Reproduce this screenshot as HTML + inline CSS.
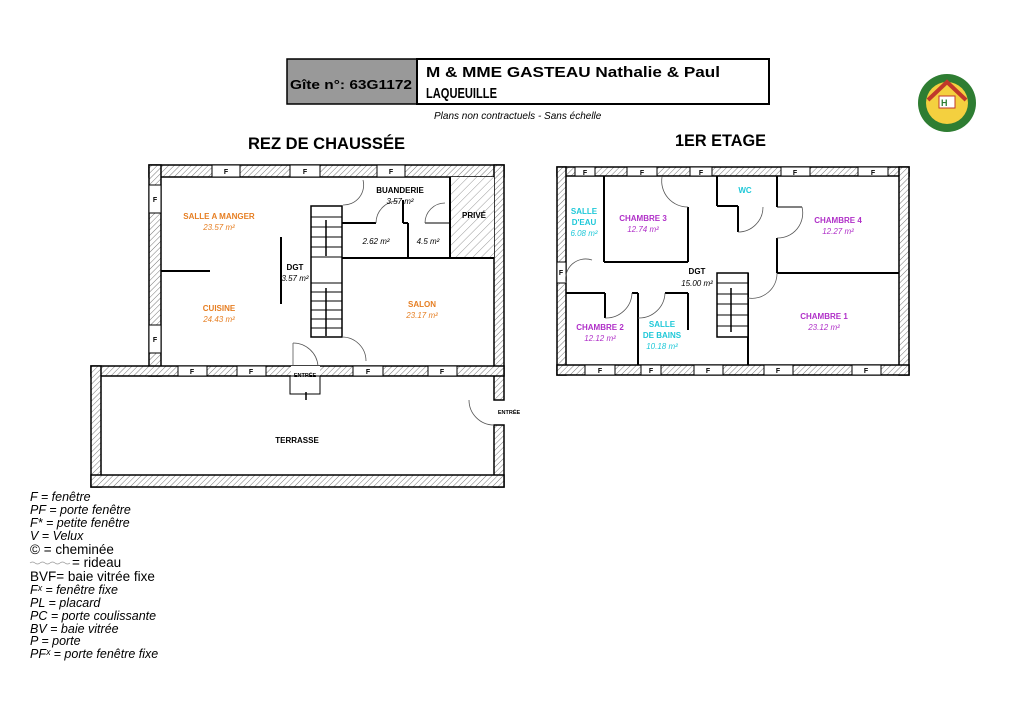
<!DOCTYPE html>
<html><head><meta charset="utf-8"><style>
html,body{margin:0;padding:0;background:#fff;}
svg{display:block;}
text{font-family:"Liberation Sans","DejaVu Sans",sans-serif;}
</style></head><body>
<svg width="1024" height="724" viewBox="0 0 1024 724" xmlns="http://www.w3.org/2000/svg">
<defs>
<pattern id="h" width="4" height="4" patternUnits="userSpaceOnUse" patternTransform="rotate(45)">
<rect width="4" height="4" fill="#fff"/><line x1="0" y1="0" x2="0" y2="4" stroke="#777" stroke-width="1"/></pattern>
<pattern id="h2" width="6" height="6" patternUnits="userSpaceOnUse" patternTransform="rotate(45)">
<rect width="6" height="6" fill="#fff"/><line x1="0" y1="0" x2="0" y2="6" stroke="#999" stroke-width="1"/></pattern>
</defs>

<!-- header -->
<rect x="287" y="59" width="130" height="45" fill="#999" stroke="#000" stroke-width="1.5"/>
<rect x="417" y="59" width="352" height="45" fill="#fff" stroke="#000" stroke-width="2"/>
<text x="290" y="89" font-size="13" font-weight="bold" textLength="122" lengthAdjust="spacingAndGlyphs">Gîte n°: 63G1172</text>
<text x="426" y="77" font-size="15" font-weight="bold" textLength="294" lengthAdjust="spacingAndGlyphs">M &amp; MME GASTEAU Nathalie &amp; Paul</text>
<text x="426" y="98" font-size="15" font-weight="bold" textLength="71" lengthAdjust="spacingAndGlyphs">LAQUEUILLE</text>
<text x="434" y="119" font-size="10" font-style="italic">Plans non contractuels - Sans échelle</text>
<!-- logo -->
<circle cx="947" cy="103" r="29" fill="#2e7d32"/>
<circle cx="947" cy="103" r="21" fill="#f4d03f"/>
<path d="M928 100 L947 82 L966 100" fill="none" stroke="#c0392b" stroke-width="4"/>
<rect x="939" y="96" width="16" height="12" fill="#fff" stroke="#c0392b"/>
<text x="941" y="106" font-size="9" font-weight="bold" fill="#2e7d32">H</text>

<text x="248" y="149" font-size="17" font-weight="bold" textLength="157" lengthAdjust="spacingAndGlyphs">REZ DE CHAUSSÉE</text>
<text x="675" y="146" font-size="17" font-weight="bold" textLength="91" lengthAdjust="spacingAndGlyphs">1ER ETAGE</text>

<!-- ===== LEFT PLAN ===== -->
<g stroke="#000" stroke-width="1.5" fill="url(#h)">
<rect x="149" y="165" width="355" height="12"/>
<rect x="149" y="165" width="12" height="211"/>
<rect x="494" y="165" width="10" height="235"/>
<rect x="494" y="425" width="10" height="62"/>
<rect x="91" y="366" width="413" height="10"/>
<rect x="91" y="366" width="10" height="121"/>
<rect x="91" y="475" width="413" height="12"/>
</g>
<g stroke="#000" stroke-width="1" fill="#fff">
<rect x="212" y="165" width="28" height="12"/><rect x="290" y="165" width="30" height="12"/><rect x="377" y="165" width="28" height="12"/>
<rect x="149" y="185" width="12" height="28"/><rect x="149" y="325" width="12" height="28"/>
<rect x="178" y="366" width="29" height="10"/><rect x="237" y="366" width="29" height="10"/><rect x="353" y="366" width="30" height="10"/><rect x="428" y="366" width="29" height="10"/>
<rect x="291" y="366" width="29" height="10" stroke="none"/>
<rect x="290" y="376" width="30" height="18"/>
<rect x="495" y="401" width="8" height="23" stroke="none"/>
</g>
<g font-size="7" font-weight="bold" text-anchor="middle">
<text x="226" y="174">F</text><text x="305" y="174">F</text><text x="391" y="174">F</text>
<text x="155" y="202">F</text><text x="155" y="342">F</text>
<text x="192" y="374">F</text><text x="251" y="374">F</text><text x="368" y="374">F</text><text x="442" y="374">F</text>
<text x="305" y="377" font-size="5.5">ENTRÉE</text>
<text x="509" y="414" font-size="5.5">ENTRÉE</text>
</g>
<!-- interior -->
<rect x="450" y="177" width="44" height="81" fill="url(#h2)"/>
<g stroke="#000" stroke-width="2" fill="none">
<line x1="342" y1="258" x2="494" y2="258"/>
<line x1="450" y1="177" x2="450" y2="258"/>
<line x1="408" y1="223" x2="408" y2="258"/>
<line x1="342" y1="223" x2="376" y2="223"/>
<line x1="281" y1="237" x2="281" y2="304"/>
<line x1="161" y1="271" x2="210" y2="271"/>
<line x1="403" y1="200" x2="403" y2="223"/><line x1="403" y1="223" x2="408" y2="223"/>
<line x1="425" y1="223" x2="450" y2="223" stroke-width="1"/>
</g>
<rect x="311" y="206" width="31" height="131" fill="#fff" stroke="#000" stroke-width="1.5"/>
<g stroke="#000" stroke-width="1">
<line x1="311" y1="217" x2="342" y2="217"/><line x1="311" y1="227" x2="342" y2="227"/><line x1="311" y1="237" x2="342" y2="237"/><line x1="311" y1="247" x2="342" y2="247"/><line x1="311" y1="257" x2="342" y2="257"/>
<line x1="311" y1="283" x2="342" y2="283"/><line x1="311" y1="292" x2="342" y2="292"/><line x1="311" y1="301" x2="342" y2="301"/><line x1="311" y1="310" x2="342" y2="310"/><line x1="311" y1="319" x2="342" y2="319"/><line x1="311" y1="328" x2="342" y2="328"/>
<line x1="326" y1="220" x2="326" y2="256" stroke-width="1.5"/><line x1="326" y1="288" x2="326" y2="336" stroke-width="1.5"/>
<line x1="306" y1="392" x2="306" y2="400" stroke-width="1.5"/>
</g>
<g stroke="#555" stroke-width="0.8" fill="none">
<path d="M343 205 A20 20 0 0 0 363 180"/>
<path d="M342 337 A24 24 0 0 1 366 361"/>
<path d="M293 343 A25 25 0 0 1 318 366"/><line x1="293" y1="343" x2="293" y2="366"/>
<path d="M376 223 A22 22 0 0 1 398 201"/>
<path d="M425 223 A20 20 0 0 1 445 203"/>
<path d="M469 400 A25 25 0 0 0 494 425"/>
</g>
<g font-size="8" font-weight="bold" text-anchor="middle">
<text x="219" y="219" fill="#e67e22">SALLE A MANGER</text>
<text x="219" y="230" fill="#e67e22" font-weight="normal" font-style="italic">23.57 m²</text>
<text x="219" y="311" fill="#e67e22">CUISINE</text>
<text x="219" y="322" fill="#e67e22" font-weight="normal" font-style="italic">24.43 m²</text>
<text x="422" y="307" fill="#e67e22">SALON</text>
<text x="422" y="318" fill="#e67e22" font-weight="normal" font-style="italic">23.17 m²</text>
<text x="295" y="270">DGT</text>
<text x="295" y="281" font-weight="normal" font-style="italic">3.57 m²</text>
<text x="400" y="193">BUANDERIE</text>
<text x="400" y="204" font-weight="normal" font-style="italic">3.57 m²</text>
<text x="376" y="244" font-weight="normal" font-style="italic">2.62 m²</text>
<text x="428" y="244" font-weight="normal" font-style="italic">4.5 m²</text>
<text x="474" y="218">PRIVÉ</text>
<text x="297" y="443">TERRASSE</text>
</g>

<!-- ===== RIGHT PLAN ===== -->
<g stroke="#000" stroke-width="1.5" fill="url(#h)">
<rect x="557" y="167" width="352" height="9"/>
<rect x="557" y="167" width="9" height="208"/>
<rect x="899" y="167" width="10" height="208"/>
<rect x="557" y="365" width="352" height="10"/>
</g>
<g stroke="#000" stroke-width="1" fill="#fff">
<rect x="575" y="167" width="20" height="9"/><rect x="627" y="167" width="30" height="9"/><rect x="690" y="167" width="22" height="9"/><rect x="781" y="167" width="29" height="9"/><rect x="858" y="167" width="30" height="9"/>
<rect x="585" y="365" width="30" height="10"/><rect x="641" y="365" width="20" height="10"/><rect x="694" y="365" width="29" height="10"/><rect x="764" y="365" width="29" height="10"/><rect x="852" y="365" width="29" height="10"/>
<rect x="557" y="262" width="9" height="21"/>
</g>
<g font-size="7" font-weight="bold" text-anchor="middle">
<text x="585" y="175">F</text><text x="642" y="175">F</text><text x="701" y="175">F</text><text x="795" y="175">F</text><text x="873" y="175">F</text>
<text x="600" y="373">F</text><text x="651" y="373">F</text><text x="708" y="373">F</text><text x="778" y="373">F</text><text x="866" y="373">F</text>
<text x="561" y="275">F</text>
</g>
<g stroke="#000" stroke-width="2" fill="none">
<line x1="604" y1="176" x2="604" y2="262"/><line x1="604" y1="262" x2="688" y2="262"/><line x1="688" y1="207" x2="688" y2="262"/>
<line x1="566" y1="293" x2="605" y2="293"/><line x1="605" y1="293" x2="605" y2="318"/>
<line x1="632" y1="293" x2="638" y2="293"/><line x1="638" y1="293" x2="638" y2="365"/>
<line x1="665" y1="293" x2="688" y2="293"/><line x1="688" y1="293" x2="688" y2="330"/>
<line x1="748" y1="273" x2="748" y2="365"/>
<line x1="777" y1="273" x2="899" y2="273"/>
<line x1="777" y1="176" x2="777" y2="207"/><line x1="777" y1="238" x2="777" y2="273"/>
<line x1="717" y1="176" x2="717" y2="206"/><line x1="717" y1="206" x2="738" y2="206"/><line x1="738" y1="206" x2="738" y2="232"/>
<line x1="777" y1="207" x2="802" y2="207" stroke-width="1"/>
</g>
<rect x="717" y="273" width="31" height="64" fill="#fff" stroke="#000" stroke-width="1.5"/>
<g stroke="#000" stroke-width="1">
<line x1="717" y1="283" x2="748" y2="283"/><line x1="717" y1="294" x2="748" y2="294"/><line x1="717" y1="304" x2="748" y2="304"/><line x1="717" y1="315" x2="748" y2="315"/><line x1="717" y1="326" x2="748" y2="326"/>
<line x1="731" y1="288" x2="731" y2="332" stroke-width="1.5"/>
</g>
<g stroke="#555" stroke-width="0.8" fill="none">
<path d="M662 177 A26 26 0 0 0 688 207"/>
<path d="M566 283 A20 20 0 0 1 592 260"/>
<path d="M605 318 A26 26 0 0 0 632 293"/>
<path d="M638 318 A26 26 0 0 0 665 293"/>
<path d="M738 232 A25 25 0 0 0 763 207"/>
<path d="M777 238 A25 25 0 0 0 802 207"/>
<path d="M748 298 A25 25 0 0 0 777 273"/>
</g>
<g font-size="8" font-weight="bold" text-anchor="middle">
<text x="584" y="214" fill="#1ec8d8">SALLE</text>
<text x="584" y="225" fill="#1ec8d8">D'EAU</text>
<text x="584" y="236" fill="#1ec8d8" font-weight="normal" font-style="italic">6.08 m²</text>
<text x="643" y="221" fill="#b030c8">CHAMBRE 3</text>
<text x="643" y="232" fill="#b030c8" font-weight="normal" font-style="italic">12.74 m²</text>
<text x="745" y="193" fill="#1ec8d8">WC</text>
<text x="838" y="223" fill="#b030c8">CHAMBRE 4</text>
<text x="838" y="234" fill="#b030c8" font-weight="normal" font-style="italic">12.27 m²</text>
<text x="697" y="274">DGT</text>
<text x="697" y="286" font-weight="normal" font-style="italic">15.00 m²</text>
<text x="600" y="330" fill="#b030c8">CHAMBRE 2</text>
<text x="600" y="341" fill="#b030c8" font-weight="normal" font-style="italic">12.12 m²</text>
<text x="662" y="327" fill="#1ec8d8">SALLE</text>
<text x="662" y="338" fill="#1ec8d8">DE BAINS</text>
<text x="662" y="349" fill="#1ec8d8" font-weight="normal" font-style="italic">10.18 m²</text>
<text x="824" y="319" fill="#b030c8">CHAMBRE 1</text>
<text x="824" y="330" fill="#b030c8" font-weight="normal" font-style="italic">23.12 m²</text>
</g>

<!-- legend -->
<g font-size="12.5">
<text x="30" y="501" font-style="italic">F = fenêtre</text>
<text x="30" y="514" font-style="italic">PF = porte fenêtre</text>
<text x="30" y="527" font-style="italic">F* = petite fenêtre</text>
<text x="30" y="540" font-style="italic">V = Velux</text>
<text x="30" y="554" font-size="13.5">© = cheminée</text>
<path d="M30 563 q2.5 -2 5 0 t5 0 t5 0 t5 0 t5 0 t5 0 t5 0 t5 0" fill="none" stroke="#999" stroke-width="0.7"/>
<text x="72" y="567" font-size="13.5">= rideau</text>
<text x="30" y="581" font-size="13.5">BVF= baie vitrée fixe</text>
<text x="30" y="594" font-style="italic">Fˣ = fenêtre fixe</text>
<text x="30" y="607" font-style="italic">PL = placard</text>
<text x="30" y="620" font-style="italic">PC = porte coulissante</text>
<text x="30" y="633" font-style="italic">BV = baie vitrée</text>
<text x="30" y="645" font-style="italic">P = porte</text>
<text x="30" y="658" font-style="italic">PFˣ = porte fenêtre fixe</text>
</g>
</svg>
</body></html>
